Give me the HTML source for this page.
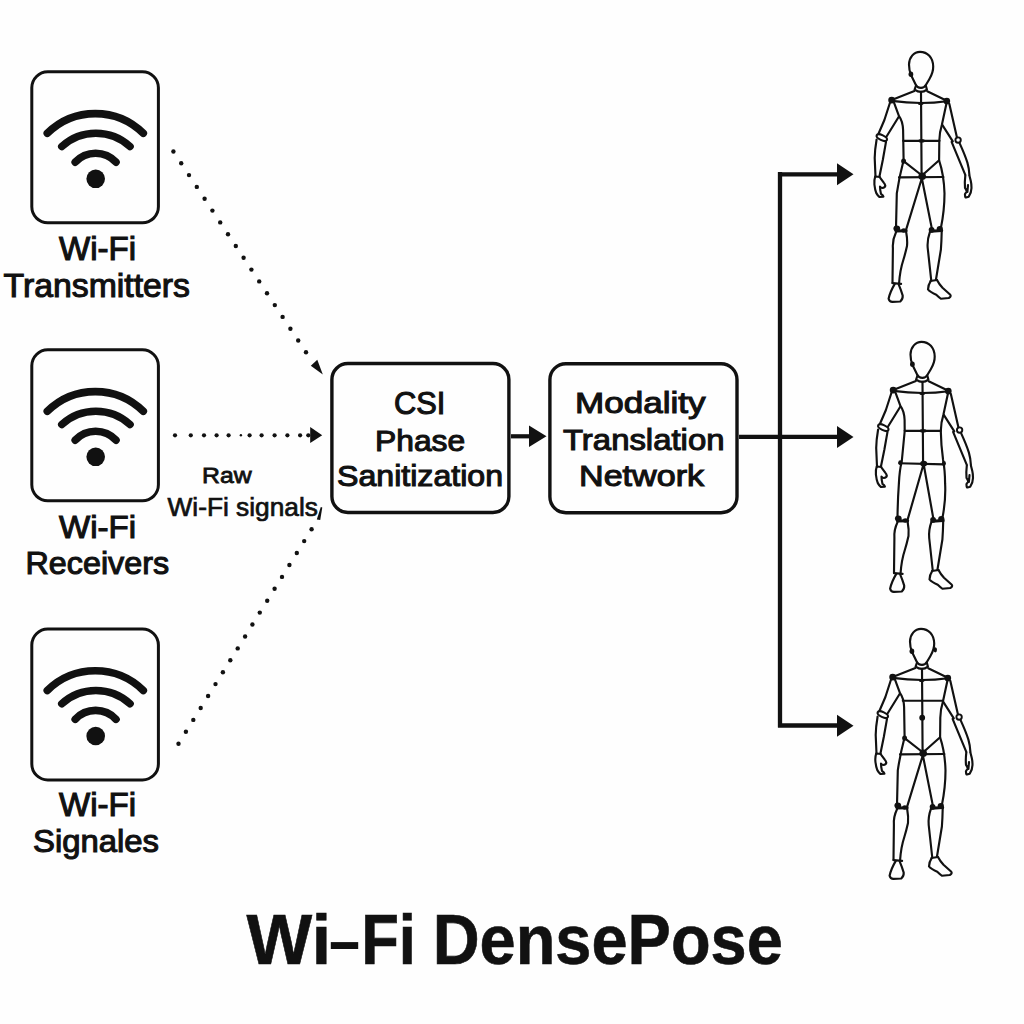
<!DOCTYPE html>
<html><head><meta charset="utf-8"><style>
html,body{margin:0;padding:0;background:#fefefe;width:1024px;height:1024px;overflow:hidden;}
svg{display:block;}
text{font-family:"Liberation Sans", sans-serif;fill:#111;}
</style></head><body>
<svg width="1024" height="1024" viewBox="0 0 1024 1024">
<text x="59.00" y="259.80" font-size="32.54" textLength="77.04" lengthAdjust="spacingAndGlyphs" stroke="#111" stroke-width="1.1">Wi-Fi</text>
<text x="3.50" y="296.90" font-size="33.10" textLength="186.52" lengthAdjust="spacingAndGlyphs" stroke="#111" stroke-width="1.1">Transmitters</text>
<text x="59.00" y="537.50" font-size="32.25" textLength="77.04" lengthAdjust="spacingAndGlyphs" stroke="#111" stroke-width="1.1">Wi-Fi</text>
<text x="25.50" y="574.20" font-size="31.55" textLength="143.59" lengthAdjust="spacingAndGlyphs" stroke="#111" stroke-width="1.1">Receivers</text>
<text x="59.00" y="815.70" font-size="32.39" textLength="77.04" lengthAdjust="spacingAndGlyphs" stroke="#111" stroke-width="1.1">Wi-Fi</text>
<text x="33.00" y="852.30" font-size="31.69" textLength="126.06" lengthAdjust="spacingAndGlyphs" stroke="#111" stroke-width="1.1">Signales</text>
<text x="394.00" y="414.00" font-size="30.99" textLength="51.29" lengthAdjust="spacingAndGlyphs" stroke="#111" stroke-width="1.1">CSI</text>
<text x="375.00" y="450.70" font-size="30.28" textLength="90.19" lengthAdjust="spacingAndGlyphs" stroke="#111" stroke-width="1.1">Phase</text>
<text x="337.00" y="485.90" font-size="30.28" textLength="166.06" lengthAdjust="spacingAndGlyphs" stroke="#111" stroke-width="1.1">Sanitization</text>
<text x="575.00" y="413.40" font-size="30.42" textLength="130.58" lengthAdjust="spacingAndGlyphs" stroke="#111" stroke-width="1.1">Modality</text>
<text x="563.00" y="450.20" font-size="30.42" textLength="161.53" lengthAdjust="spacingAndGlyphs" stroke="#111" stroke-width="1.1">Translation</text>
<text x="579.00" y="485.80" font-size="30.42" textLength="125.07" lengthAdjust="spacingAndGlyphs" stroke="#111" stroke-width="1.1">Network</text>
<text x="202.00" y="483.20" font-size="22.11" textLength="49.60" lengthAdjust="spacingAndGlyphs" stroke="#111" stroke-width="0.8">Raw</text>
<text x="167.50" y="515.60" font-size="25.77" textLength="150.41" lengthAdjust="spacingAndGlyphs" stroke="#111" stroke-width="0.7">Wi-Fi signals</text>
<text x="246.60" y="963.70" font-size="69.86" textLength="84.44" lengthAdjust="spacingAndGlyphs" font-weight="bold" stroke="#111" stroke-width="0.6">Wi</text>
<text x="361.20" y="963.70" font-size="69.86" textLength="54.82" lengthAdjust="spacingAndGlyphs" font-weight="bold" stroke="#111" stroke-width="0.6">Fi</text>
<text x="432.70" y="963.70" font-size="69.86" textLength="350.10" lengthAdjust="spacingAndGlyphs" font-weight="bold" stroke="#111" stroke-width="0.6">DensePose</text>
<rect x="330.8" y="942.1" width="27.4" height="6.9" fill="#111"/>
<rect x="31.8" y="71.8" width="126.6" height="151" rx="16" ry="16" fill="none" stroke="#111" stroke-width="3.0"/>
<g transform="translate(30.3,70.3)" fill="none" stroke="#111" stroke-width="7.6" stroke-linecap="round"><path d="M17 63 A68.3 68.3 0 0 1 113 63"/><path d="M31.5 76.2 A50.6 50.6 0 0 1 99.7 76.2"/><path d="M44.9 91.8 A27.8 27.8 0 0 1 85.7 91.8"/><circle cx="65.4" cy="108.5" r="9.3" fill="#111" stroke="none"/></g>
<rect x="31.8" y="349.8" width="126.6" height="151" rx="16" ry="16" fill="none" stroke="#111" stroke-width="3.0"/>
<g transform="translate(30.3,348.3)" fill="none" stroke="#111" stroke-width="7.6" stroke-linecap="round"><path d="M17 63 A68.3 68.3 0 0 1 113 63"/><path d="M31.5 76.2 A50.6 50.6 0 0 1 99.7 76.2"/><path d="M44.9 91.8 A27.8 27.8 0 0 1 85.7 91.8"/><circle cx="65.4" cy="108.5" r="9.3" fill="#111" stroke="none"/></g>
<rect x="31.8" y="629.0" width="126.6" height="151" rx="16" ry="16" fill="none" stroke="#111" stroke-width="3.0"/>
<g transform="translate(30.3,627.5)" fill="none" stroke="#111" stroke-width="7.6" stroke-linecap="round"><path d="M17 63 A68.3 68.3 0 0 1 113 63"/><path d="M31.5 76.2 A50.6 50.6 0 0 1 99.7 76.2"/><path d="M44.9 91.8 A27.8 27.8 0 0 1 85.7 91.8"/><circle cx="65.4" cy="108.5" r="9.3" fill="#111" stroke="none"/></g>
<rect x="331.9" y="363.5" width="177" height="149" rx="16" fill="none" stroke="#111" stroke-width="3.4"/>
<rect x="549.9" y="363.7" width="187.1" height="149.1" rx="16" fill="none" stroke="#111" stroke-width="3.4"/>
<path d="M511 436.3 H532" stroke="#111" stroke-width="4.2" fill="none"/>
<path d="M529 425.5 L546.5 436.3 L529 447 Z" fill="#111"/>
<path d="M739 436.9 H840 M780 172 V727.6 M778 174.3 H840 M778 725.5 H840" stroke="#111" stroke-width="4.3" fill="none"/>
<path d="M837 163.3 L853.5 174.3 L837 185.3 Z" fill="#111"/>
<path d="M837 425.9 L853.5 436.9 L837 447.9 Z" fill="#111"/>
<path d="M837 714.8 L853.5 725.8 L837 736.8 Z" fill="#111"/>
<g transform="translate(0,0)"><g fill="none" stroke="#111" stroke-width="2.15" stroke-linecap="round" stroke-linejoin="round"><path d="M920 51.8 C914 51.8 909.2 57 909 64.5 C909 69 909.8 72 911 75 L915.5 84.3 C916.5 86.6 918.5 87.9 921 87.9 C923.5 87.9 925 86.6 926 84.8 L929.3 79.2 C931.8 75 933.3 71 933.2 66.5 C933 57.5 927.5 51.8 920 51.8 Z"/><path d="M916 85.5 L914.6 89.6 M925.8 85.5 L926.9 89.6 M914.6 89.6 Q921 94.3 926.9 89.6"/><path d="M914.4 91 L891.7 99.9 M927.2 91.3 L946.8 100.7"/><path d="M891.7 100.9 Q920.6 105 946.8 101.2"/><path d="M921 91.9 L921.6 176"/><path d="M894.1 102.8 L898.9 115.8 Q902.8 121 903.1 130 L903.6 160.3 Q899 178 896.8 193.4 L896 228"/><path d="M946.4 103.8 L942 124.3 Q939.5 132 939.3 140.7 L939.1 160.3 Q944 175 944.5 193.4 Q944.5 210 940.9 228"/><path d="M903.2 140.8 L939.5 140.8"/><path d="M903.6 161.1 L922 175.5 L939.1 160.3"/><path d="M899 177.4 L943.4 177"/><path d="M921.6 179 L906.2 229.4 M922.2 180 L932 229.4"/><path d="M896 232.3 Q892.3 240 892.9 248 L892.5 283 M906.2 232.3 Q907.6 240 907 246 Q905.2 254 903.4 259.7 Q900 270 899.1 283"/><path d="M892.5 283.1 L901.1 283.9"/><path d="M894.8 283.9 Q890 292 888.6 298.75 Q889.5 302 892.5 301.9 L900.3 301.5 Q903 299 902.7 295.6 Q901 290 898.75 284.7"/><path d="M930 231.6 Q927 240 927.7 248 L931.2 280 M941.7 231.6 Q941.5 242 940.9 249.5 L935.9 280"/><path d="M930.5 281 L937 280"/><path d="M930.8 280.8 Q928 285 928 289.4 Q930 292 936.25 294.8 Q938.5 297 940.9 298.75 L948.75 298 Q951.5 296.5 950.3 294.8 L942.5 287.8 Q939 284 937 280"/><path d="M890.2 102 L884.4 120 L878.5 133.7 M898.6 117 L886.4 136.8"/><path d="M876.6 139.5 Q874.8 150 874.7 158 L875.5 176.7 M886 141.9 L882.8 160 L879.5 176.3"/><path d="M875.5 176.5 L879.8 177"/><path d="M875.2 176.7 Q874 180 874.4 184.5 Q875 190 876.3 193.1 Q878 196 879.5 197 L883.4 196.6 Q883 195 881 193.9 Q880 190 880 186.5 Q881 188 882.2 188 Q885 187.5 885.3 185.7 Q885 184 883.75 182.6 L880.2 177.9"/><path d="M949.3 103.8 L956.9 137.2 M942.3 124.9 L952.8 141.3"/><path d="M951.6 141.9 L965.3 174.9 M959.8 143.6 Q965 155 967.4 162.6 Q969 168 969.4 174.9"/><path d="M965.3 175.6 Q964.5 182 965 187.9 Q966.5 190 966.7 192 Q964.5 194 965 194.7 Q965 197.5 966 197.5 L968.7 196.8 Q971.5 192 971.5 187.9 Q971.5 184 970.8 181 L969.4 175.6 M968 185.1 L967.4 192"/><ellipse cx="881.8" cy="137.6" rx="5.6" ry="2.5" transform="rotate(25 881.8 137.6)" stroke-width="2.1"/><circle cx="958.1" cy="140.1" r="2.7" stroke-width="1.9"/><path d="M896 231 L906.2 230.8 M930.8 231.2 L941.7 230.6" stroke-width="3"/></g><g fill="#111"><ellipse cx="910.9" cy="74.3" rx="2.35" ry="2.69"/><ellipse cx="891.7" cy="100.1" rx="3.47" ry="3.36"/><ellipse cx="946.8" cy="101.0" rx="3.36" ry="3.36"/><ellipse cx="920.8" cy="103.4" rx="2.91" ry="1.68"/><ellipse cx="921.6" cy="140.8" rx="3.36" ry="1.90"/><ellipse cx="903.6" cy="161.1" rx="2.46" ry="2.69"/><ellipse cx="922.2" cy="176.25" rx="3.81" ry="3.81"/><ellipse cx="896.8" cy="228.6" rx="3.36" ry="3.14"/><ellipse cx="903.8" cy="230.5" rx="2.58" ry="2.24"/><ellipse cx="931.6" cy="229.8" rx="2.91" ry="2.91"/><ellipse cx="939.8" cy="229.0" rx="3.14" ry="2.91"/></g></g>
<g transform="translate(1.5,290)"><g fill="none" stroke="#111" stroke-width="2.15" stroke-linecap="round" stroke-linejoin="round"><path d="M920 51.8 C914 51.8 909.2 57 909 64.5 C909 69 909.8 72 911 75 L915.5 84.3 C916.5 86.6 918.5 87.9 921 87.9 C923.5 87.9 925 86.6 926 84.8 L929.3 79.2 C931.8 75 933.3 71 933.2 66.5 C933 57.5 927.5 51.8 920 51.8 Z"/><path d="M916 85.5 L914.6 89.6 M925.8 85.5 L926.9 89.6 M914.6 89.6 Q921 94.3 926.9 89.6"/><path d="M914.4 91 L891.7 99.9 M927.2 91.3 L946.8 100.7"/><path d="M891.7 100.9 Q920.6 105 946.8 101.2"/><path d="M921 91.9 L921.6 176"/><path d="M894.1 102.8 L898.9 115.8 Q902.8 121 903.1 130 L903.2 141 L900.2 172 Q898 180 897.4 193.4 Q896.2 210 896 228"/><path d="M946.4 103.8 L942 124.3 Q939.5 132 939.3 141 Q939.5 155 941.6 170 Q943.5 180 943.6 193.4 Q944.5 210 940.9 228"/><path d="M903.2 140.8 L939.5 140.8"/><path d="M897.8 173.2 L942.6 174.4"/><path d="M921.8 175 L906.2 229.4 M922.4 175.5 L932 229.4"/><path d="M896 232.3 Q892.3 240 892.9 248 L892.5 283 M906.2 232.3 Q907.6 240 907 246 Q905.2 254 903.4 259.7 Q900 270 899.1 283"/><path d="M892.5 283.1 L901.1 283.9"/><path d="M894.8 283.9 Q890 292 888.6 298.75 Q889.5 302 892.5 301.9 L900.3 301.5 Q903 299 902.7 295.6 Q901 290 898.75 284.7"/><path d="M930 231.6 Q927 240 927.7 248 L931.2 280 M941.7 231.6 Q941.5 242 940.9 249.5 L935.9 280"/><path d="M930.5 281 L937 280"/><path d="M930.8 280.8 Q928 285 928 289.4 Q930 292 936.25 294.8 Q938.5 297 940.9 298.75 L948.75 298 Q951.5 296.5 950.3 294.8 L942.5 287.8 Q939 284 937 280"/><path d="M890.2 102 L884.4 120 L878.5 133.7 M898.6 117 L886.4 136.8"/><path d="M876.6 139.5 Q874.8 150 874.7 158 L875.5 176.7 M886 141.9 L882.8 160 L879.5 176.3"/><path d="M875.5 176.5 L879.8 177"/><path d="M875.2 176.7 Q874 180 874.4 184.5 Q875 190 876.3 193.1 Q878 196 879.5 197 L883.4 196.6 Q883 195 881 193.9 Q880 190 880 186.5 Q881 188 882.2 188 Q885 187.5 885.3 185.7 Q885 184 883.75 182.6 L880.2 177.9"/><path d="M949.3 103.8 L956.9 137.2 M942.3 124.9 L952.8 141.3"/><path d="M951.6 141.9 L965.3 174.9 M959.8 143.6 Q965 155 967.4 162.6 Q969 168 969.4 174.9"/><path d="M965.3 175.6 Q964.5 182 965 187.9 Q966.5 190 966.7 192 Q964.5 194 965 194.7 Q965 197.5 966 197.5 L968.7 196.8 Q971.5 192 971.5 187.9 Q971.5 184 970.8 181 L969.4 175.6 M968 185.1 L967.4 192"/><ellipse cx="881.8" cy="137.6" rx="5.6" ry="2.5" transform="rotate(25 881.8 137.6)" stroke-width="2.1"/><circle cx="958.1" cy="140.1" r="2.7" stroke-width="1.9"/><path d="M896 231 L906.2 230.8 M930.8 231.2 L941.7 230.6" stroke-width="3"/></g><g fill="#111"><ellipse cx="910.9" cy="74.3" rx="2.35" ry="2.69"/><ellipse cx="891.7" cy="100.1" rx="3.47" ry="3.36"/><ellipse cx="946.8" cy="101.0" rx="3.36" ry="3.36"/><ellipse cx="920.8" cy="103.4" rx="2.91" ry="1.68"/><ellipse cx="921.6" cy="140.8" rx="3.36" ry="1.90"/><ellipse cx="898.8" cy="172.8" rx="2.02" ry="2.46"/><ellipse cx="942.4" cy="173.5" rx="2.02" ry="2.46"/><ellipse cx="922.2" cy="173.6" rx="3.58" ry="2.91"/><ellipse cx="896.8" cy="228.6" rx="3.36" ry="3.14"/><ellipse cx="903.8" cy="230.5" rx="2.58" ry="2.24"/><ellipse cx="931.6" cy="229.8" rx="2.91" ry="2.91"/><ellipse cx="939.8" cy="229.0" rx="3.14" ry="2.91"/></g></g>
<g transform="translate(1,577)"><g fill="none" stroke="#111" stroke-width="2.15" stroke-linecap="round" stroke-linejoin="round"><path d="M920 51.8 C914 51.8 909.2 57 909 64.5 C909 69 909.8 72 911 75 L915.5 84.3 C916.5 86.6 918.5 87.9 921 87.9 C923.5 87.9 925 86.6 926 84.8 L929.3 79.2 C931.8 75 933.3 71 933.2 66.5 C933 57.5 927.5 51.8 920 51.8 Z"/><path d="M916 85.5 L914.6 89.6 M925.8 85.5 L926.9 89.6 M914.6 89.6 Q921 94.3 926.9 89.6"/><path d="M914.4 91 L891.7 99.9 M927.2 91.3 L946.8 100.7"/><path d="M891.7 100.9 Q920.6 105 946.8 101.2"/><path d="M921 91.9 L921.6 176"/><path d="M894.1 102.8 L898.9 115.8 Q902.8 121 903.1 130 L903.6 160.3 Q899 178 896.8 193.4 L896 228"/><path d="M946.4 103.8 L942 124.3 Q939.5 132 939.3 140.7 L939.1 160.3 Q944 175 944.5 193.4 Q944.5 210 940.9 228"/><path d="M901.8 123.7 L941.6 123.7"/><path d="M903.6 161.1 L922 175.5 L939.1 160.3"/><path d="M899 177.4 L943.4 177"/><path d="M921.6 179 L906.2 229.4 M922.2 180 L932 229.4"/><path d="M896 232.3 Q892.3 240 892.9 248 L892.5 283 M906.2 232.3 Q907.6 240 907 246 Q905.2 254 903.4 259.7 Q900 270 899.1 283"/><path d="M892.5 283.1 L901.1 283.9"/><path d="M894.8 283.9 Q890 292 888.6 298.75 Q889.5 302 892.5 301.9 L900.3 301.5 Q903 299 902.7 295.6 Q901 290 898.75 284.7"/><path d="M930 231.6 Q927 240 927.7 248 L931.2 280 M941.7 231.6 Q941.5 242 940.9 249.5 L935.9 280"/><path d="M930.5 281 L937 280"/><path d="M930.8 280.8 Q928 285 928 289.4 Q930 292 936.25 294.8 Q938.5 297 940.9 298.75 L948.75 298 Q951.5 296.5 950.3 294.8 L942.5 287.8 Q939 284 937 280"/><path d="M890.2 102 L884.4 120 L878.5 133.7 M898.6 117 L886.4 136.8"/><path d="M876.6 139.5 Q874.8 150 874.7 158 L875.5 176.7 M886 141.9 L882.8 160 L879.5 176.3"/><path d="M875.5 176.5 L879.8 177"/><path d="M875.2 176.7 Q874 180 874.4 184.5 Q875 190 876.3 193.1 Q878 196 879.5 197 L883.4 196.6 Q883 195 881 193.9 Q880 190 880 186.5 Q881 188 882.2 188 Q885 187.5 885.3 185.7 Q885 184 883.75 182.6 L880.2 177.9"/><path d="M949.3 103.8 L956.9 137.2 M942.3 124.9 L952.8 141.3"/><path d="M951.6 141.9 L965.3 174.9 M959.8 143.6 Q965 155 967.4 162.6 Q969 168 969.4 174.9"/><path d="M965.3 175.6 Q964.5 182 965 187.9 Q966.5 190 966.7 192 Q964.5 194 965 194.7 Q965 197.5 966 197.5 L968.7 196.8 Q971.5 192 971.5 187.9 Q971.5 184 970.8 181 L969.4 175.6 M968 185.1 L967.4 192"/><ellipse cx="881.8" cy="137.6" rx="5.6" ry="2.5" transform="rotate(25 881.8 137.6)" stroke-width="2.1"/><circle cx="958.1" cy="140.1" r="2.7" stroke-width="1.9"/><path d="M896 231 L906.2 230.8 M930.8 231.2 L941.7 230.6" stroke-width="3"/></g><g fill="#111"><ellipse cx="910.9" cy="74.3" rx="2.35" ry="2.69"/><ellipse cx="934.3" cy="72.8" rx="1.68" ry="2.58"/><ellipse cx="891.7" cy="100.1" rx="3.47" ry="3.36"/><ellipse cx="946.8" cy="101.0" rx="3.36" ry="3.36"/><ellipse cx="920.8" cy="103.4" rx="2.91" ry="1.68"/><ellipse cx="921.2" cy="140.7" rx="2.91" ry="2.91"/><ellipse cx="903.6" cy="161.1" rx="2.46" ry="2.69"/><ellipse cx="922.2" cy="176.25" rx="3.81" ry="3.81"/><ellipse cx="896.8" cy="228.6" rx="3.36" ry="3.14"/><ellipse cx="903.8" cy="230.5" rx="2.58" ry="2.24"/><ellipse cx="931.6" cy="229.8" rx="2.91" ry="2.91"/><ellipse cx="939.8" cy="229.0" rx="3.14" ry="2.91"/></g></g>
<g fill="#111"><circle cx="173.4" cy="151.5" r="2.2"/><circle cx="181.2" cy="163.3" r="2.2"/><circle cx="189.0" cy="175.1" r="2.2"/><circle cx="196.8" cy="186.9" r="2.2"/><circle cx="204.6" cy="198.7" r="2.2"/><circle cx="212.4" cy="210.6" r="2.2"/><circle cx="220.2" cy="222.4" r="2.2"/><circle cx="228.0" cy="234.2" r="2.2"/><circle cx="235.8" cy="246.0" r="2.2"/><circle cx="243.6" cy="257.8" r="2.2"/><circle cx="251.4" cy="269.6" r="2.2"/><circle cx="259.2" cy="281.4" r="2.2"/><circle cx="267.0" cy="293.2" r="2.2"/><circle cx="274.8" cy="305.1" r="2.2"/><circle cx="282.6" cy="316.9" r="2.2"/><circle cx="290.4" cy="328.7" r="2.2"/><circle cx="298.2" cy="340.5" r="2.2"/><circle cx="306.0" cy="352.3" r="2.2"/><circle cx="175" cy="435.3" r="2.1"/><circle cx="190.8" cy="435.3" r="2.1"/><circle cx="204" cy="435.3" r="2.1"/><circle cx="216.6" cy="435.3" r="2.1"/><circle cx="228.6" cy="435.3" r="2.1"/><circle cx="249.6" cy="435.3" r="2.1"/><circle cx="261.6" cy="435.3" r="2.1"/><circle cx="274.6" cy="435.3" r="2.1"/><circle cx="287.4" cy="435.3" r="2.1"/><circle cx="300.1" cy="435.3" r="2.1"/><circle cx="308.3" cy="435.3" r="2.1"/><circle cx="240.9" cy="435.3" r="1.2"/><circle cx="178.5" cy="743.7" r="2.2"/><circle cx="185.9" cy="731.8" r="2.2"/><circle cx="193.3" cy="719.9" r="2.2"/><circle cx="200.7" cy="708.0" r="2.2"/><circle cx="208.1" cy="696.0" r="2.2"/><circle cx="215.5" cy="684.1" r="2.2"/><circle cx="222.9" cy="672.2" r="2.2"/><circle cx="230.3" cy="660.3" r="2.2"/><circle cx="237.7" cy="648.4" r="2.2"/><circle cx="245.1" cy="636.5" r="2.2"/><circle cx="252.4" cy="624.5" r="2.2"/><circle cx="259.8" cy="612.6" r="2.2"/><circle cx="267.2" cy="600.7" r="2.2"/><circle cx="274.6" cy="588.8" r="2.2"/><circle cx="282.0" cy="576.9" r="2.2"/><circle cx="289.4" cy="565.0" r="2.2"/><circle cx="296.8" cy="553.0" r="2.2"/><circle cx="304.2" cy="541.1" r="2.2"/><circle cx="311.6" cy="529.2" r="2.2"/></g>
<path d="M317.3 359.8 L310.8 365.8 L322.8 374.6 Z" fill="#111"/>
<path d="M310.2 427.1 L322.2 435.3 L310.2 442.9 Z" fill="#111"/>
<path d="M316.8 519.4 L320.2 520 L322.3 507.4 L320.8 506.9 Z" fill="#111"/>
</svg>
</body></html>
